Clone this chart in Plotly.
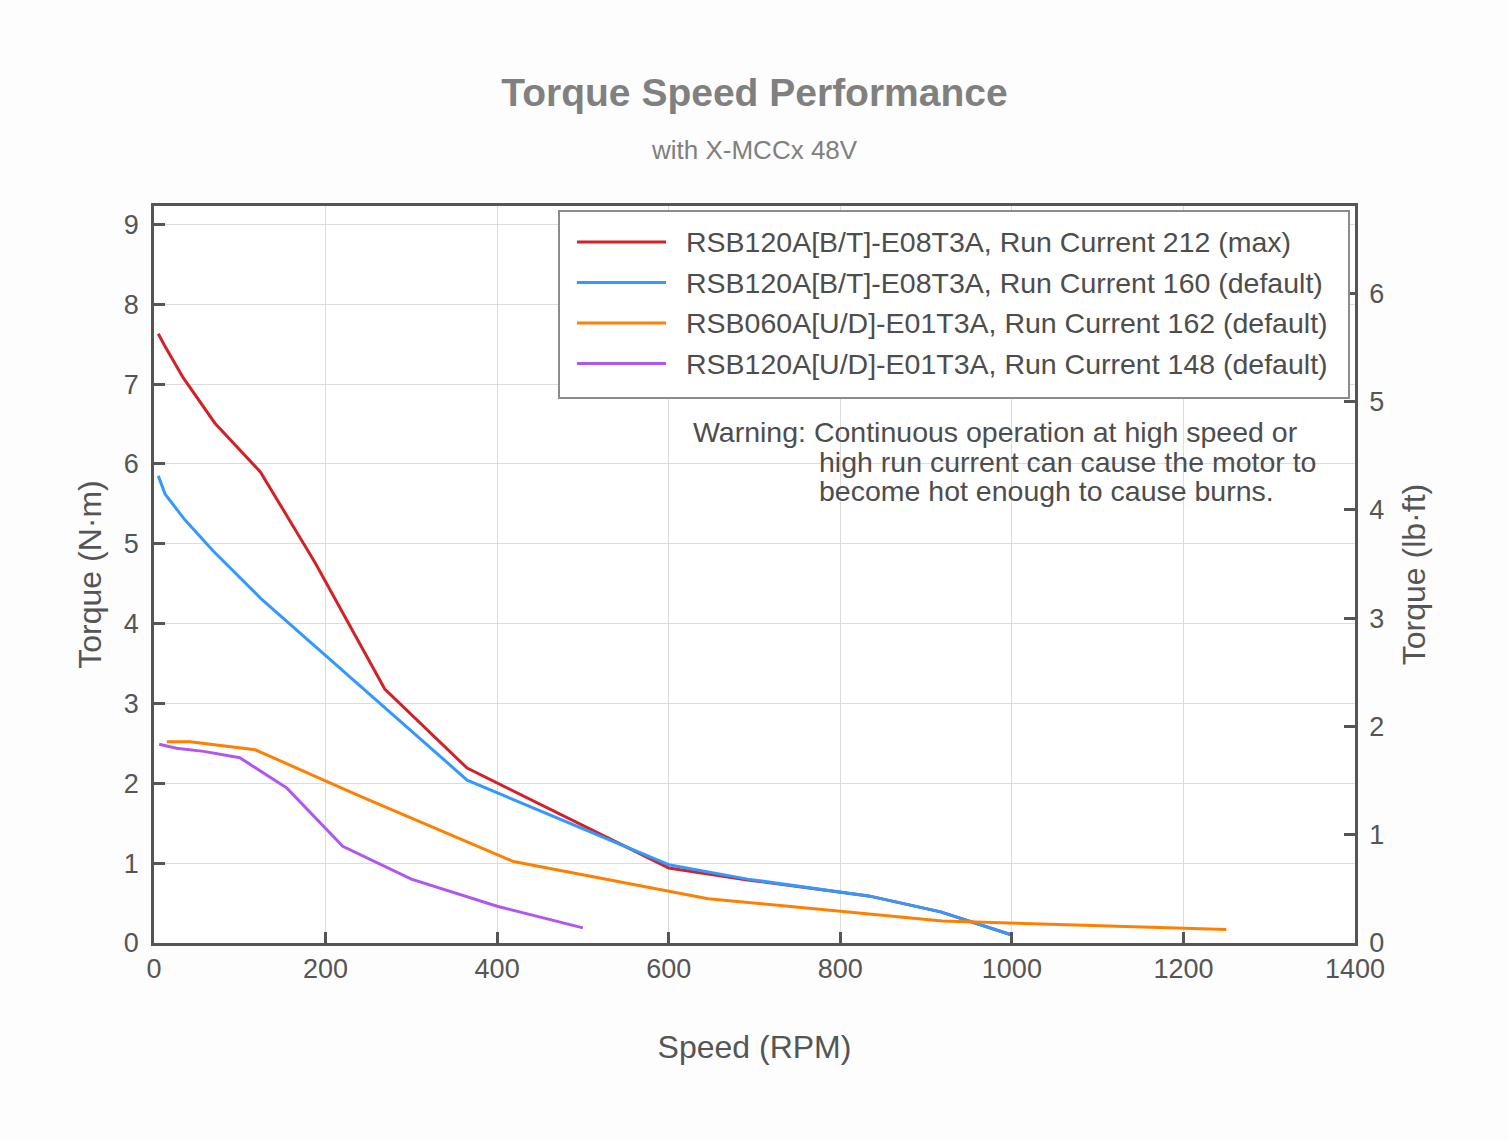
import plotly.graph_objects as go

# ---------------- data ----------------
red_rpm = [5, 12, 34, 71, 124, 188, 269, 365, 600, 692, 833, 917, 1000]
red_tq = [7.63, 7.49, 7.08, 6.51, 5.90, 4.76, 3.18, 2.19, 0.94, 0.79, 0.59, 0.39, 0.10]

blue_rpm = [5, 13, 36, 69, 124, 365, 600, 692, 833, 917, 1000]
blue_tq = [5.85, 5.62, 5.30, 4.91, 4.32, 2.04, 0.98, 0.80, 0.59, 0.39, 0.10]

orange_rpm = [15, 42, 118, 240, 419, 646, 919, 1250]
orange_tq = [2.52, 2.52, 2.42, 1.84, 1.02, 0.555, 0.275, 0.17]

purple_rpm = [6, 26, 58, 100, 155, 220, 300, 400, 500]
purple_tq = [2.49, 2.44, 2.40, 2.32, 1.94, 1.21, 0.80, 0.46, 0.19]

series_names = [
    "RSB120A[B/T]-E08T3A, Run Current 212 (max)",
    "RSB120A[B/T]-E08T3A, Run Current 160 (default)",
    "RSB060A[U/D]-E01T3A, Run Current 162 (default)",
    "RSB120A[U/D]-E01T3A, Run Current 148 (default)",
]
series_colors = ["#d42027", "#3399ff", "#ff8000", "#b057f0"]

x_ticks = [0, 200, 400, 600, 800, 1000, 1200, 1400]
y_ticks = [0, 1, 2, 3, 4, 5, 6, 7, 8, 9]
y2_ticks = [0, 1, 2, 3, 4, 5, 6]
NM_TO_LBFT = 0.737562

warning_lines = [
    "Warning: Continuous operation at high speed or",
    "high run current can cause the motor to",
    "become hot enough to cause burns.",
]

# ---------------- layout geometry (px) ----------------
W, H = 1508, 1141
L, R, T, B = 154, 1355, 206, 943
PW, PH = R - L, B - T
YMAX = 9.23


def px(xp):
    return (xp - L) / PW


def py(yp):
    return (B - yp) / PH


FONT = "Arial, 'Liberation Sans', sans-serif"
TXT = "#555555"
LEG_SIZE = 28.5

fig = go.Figure()
all_x = [red_rpm, blue_rpm, orange_rpm, purple_rpm]
all_y = [red_tq, blue_tq, orange_tq, purple_tq]
for xs, ys, name, col in zip(all_x, all_y, series_names, series_colors):
    fig.add_trace(go.Scatter(x=xs, y=ys, mode="lines", name=name,
                             line=dict(color=col, width=3), showlegend=False))

# empty trace to materialize the secondary axis
fig.add_trace(go.Scatter(x=[], y=[], yaxis="y2", showlegend=False, hoverinfo="skip"))

axis_common = dict(
    showline=True, linecolor="#555555", linewidth=2.5,
    ticks="inside", ticklen=11, tickwidth=2.5, tickcolor="#555555",
    tickfont=dict(family=FONT, size=27, color=TXT),
    zeroline=False,
)

shapes = []
annotations = []

# custom legend box
shapes.append(dict(type="rect", xref="paper", yref="paper",
                   x0=px(559), x1=px(1349), y0=py(398), y1=py(211),
                   line=dict(color="#8c8c8c", width=2), fillcolor="#ffffff",
                   layer="above"))
rows = [242, 282.5, 323, 363.5]
for row, name, col in zip(rows, series_names, series_colors):
    shapes.append(dict(type="line", xref="paper", yref="paper",
                       x0=px(577), x1=px(666), y0=py(row), y1=py(row),
                       line=dict(color=col, width=3), layer="above"))
    annotations.append(dict(xref="paper", yref="paper", x=px(684), y=py(row),
                            xanchor="left", yanchor="middle", showarrow=False,
                            text=name, font=dict(family=FONT, size=LEG_SIZE, color="#4d4d4d")))

# warning text
annotations.append(dict(xref="paper", yref="paper", x=px(691), y=py(432),
                        xanchor="left", yanchor="middle", showarrow=False,
                        text=warning_lines[0],
                        font=dict(family=FONT, size=LEG_SIZE, color="#4d4d4d")))
for yy, line in zip([462, 491], warning_lines[1:]):
    annotations.append(dict(xref="paper", yref="paper", x=px(817), y=py(yy),
                            xanchor="left", yanchor="middle", showarrow=False,
                            text=line, font=dict(family=FONT, size=LEG_SIZE, color="#4d4d4d")))

# subtitle
annotations.append(dict(xref="paper", yref="paper", x=0.5, y=py(150),
                        xanchor="center", yanchor="middle", showarrow=False,
                        text="with X-MCCx 48V", font=dict(family=FONT, size=26, color="#808080")))

fig.update_layout(
    width=W, height=H,
    margin=dict(l=L, r=W - R, t=T, b=H - B, autoexpand=False),
    paper_bgcolor="#fdfdfd", plot_bgcolor="#ffffff",
    title=dict(text="<b>Torque Speed Performance</b>", x=0.5, xref="paper",
               xanchor="center", y=1 - 92 / H, yanchor="middle",
               font=dict(family=FONT, size=39, color="#808080")),
    xaxis=dict(range=[0, 1400], tickvals=x_ticks, mirror=True,
               showgrid=True, gridcolor="#dcdcdc", gridwidth=1,
               ticklabelstandoff=0,
               title=dict(text="Speed (RPM)", standoff=53,
                          font=dict(family=FONT, size=32, color=TXT)),
               **axis_common),
    yaxis=dict(range=[0, YMAX], tickvals=y_ticks,
               showgrid=True, gridcolor="#dcdcdc", gridwidth=1,
               ticklabelstandoff=7,
               title=dict(text="Torque (N·m)", standoff=13,
                          font=dict(family=FONT, size=32, color=TXT)),
               **axis_common),
    yaxis2=dict(range=[0, YMAX * NM_TO_LBFT], tickvals=y2_ticks,
                overlaying="y", side="right", anchor="x", showgrid=False,
                ticklabelstandoff=6,
                title=dict(text="Torque (lb·ft)", standoff=20,
                           font=dict(family=FONT, size=32, color=TXT)),
                **axis_common),
    shapes=shapes,
    annotations=annotations,
    showlegend=False,
)

fig.write_html("out.html",
               config={"displayModeBar": False},
               post_script="document.body.style.margin='0';"
                           "document.body.style.background='#fdfdfd';")
